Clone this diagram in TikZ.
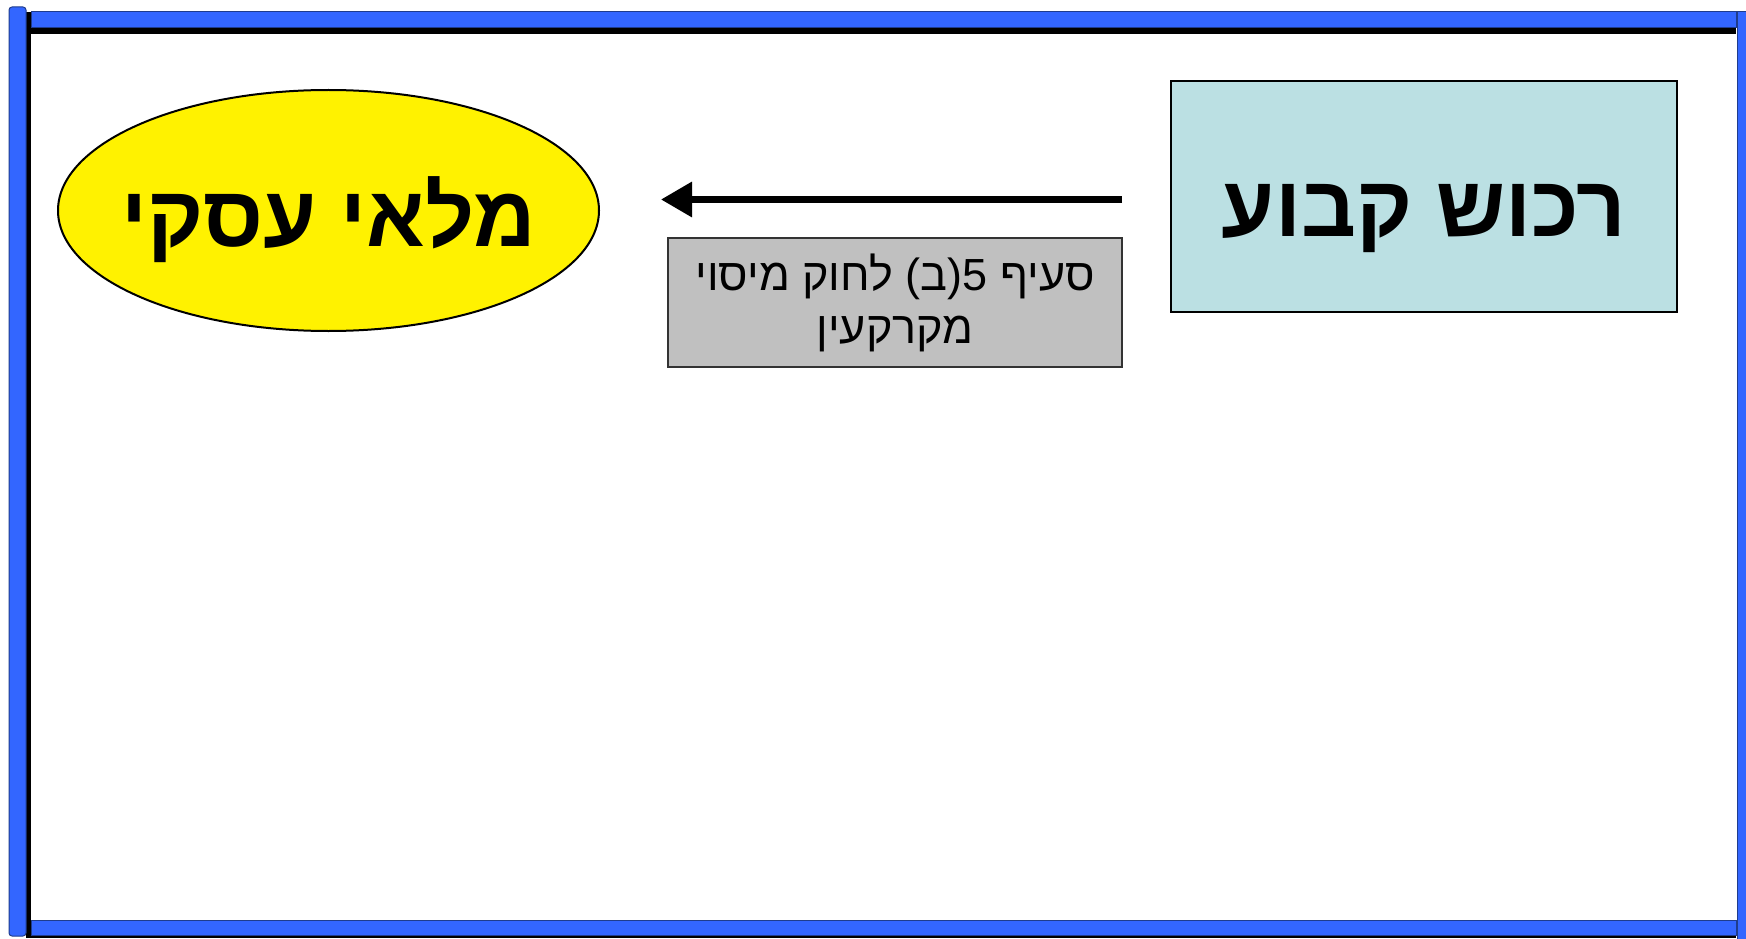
\documentclass[tikz,border=0pt]{standalone}
\usepackage{fontspec}
\setmainfont{Liberation Sans}
\newfontfamily\hebfont[Script=Hebrew]{Liberation Sans}
\TeXXeTstate=1
\usetikzlibrary{shapes.geometric,arrows.meta}
\definecolor{frameblue}{HTML}{3366FF}
\definecolor{frameedge}{HTML}{1F3C8C}
\definecolor{boxblue}{HTML}{BBE0E3}
\definecolor{boxgray}{HTML}{C0C0C0}
\tikzset{
  bar/.style={fill=frameblue, draw=frameedge, line width=1pt},
  shadowbar/.style={fill=black, draw=none},
  bigtext/.style={font=\hebfont\bfseries\fontsize{86}{100}\selectfont},
  assetbox/.style={rectangle, draw=black, line width=2pt, fill=boxblue,
    minimum width=506pt, minimum height=231pt, inner sep=0pt, bigtext},
  stockell/.style={ellipse, draw=black, line width=2pt, fill=yellow,
    minimum width=541pt, minimum height=241pt, inner sep=0pt, bigtext},
  lawbox/.style={rectangle, draw=black!80, line width=2pt, fill=boxgray,
    minimum width=454pt, minimum height=129pt, inner sep=0pt, align=center,
    font=\hebfont\fontsize{45}{53}\selectfont},
  flow/.style={line width=6.5pt, -{Triangle[length=31pt,width=34pt]}}
}
\newcommand{\dropby}[2]{\makebox[0pt]{\raisebox{-#1}[0pt][0pt]{#2}}}
\begin{document}
\begin{tikzpicture}[x=1pt,y=-1pt]
\useasboundingbox (0,0) rectangle (1746,939);
\fill[white] (0,0) rectangle (1746,939);
% frame shadows
\fill[shadowbar] (26,12) rectangle (31,938);
\fill[shadowbar] (26,28) rectangle (1736,34);
\fill[shadowbar] (26,935) rectangle (1736,938);
% frame bars
\draw[bar] (31,12) rectangle (1736,28);
\draw[bar] (31,920) rectangle (1736,935);
\draw[bar] (1737,12) rectangle (1752,945);
\draw[bar, rounded corners=3pt] (9,7) rectangle (26,936);
% nodes
\node[assetbox] (asset) at (1424,196.5) {\dropby{40pt}{\beginR רכוש קבוע\endR}};
\node[stockell] (stock) at (328.5,210.5) {\dropby{36pt}{\beginR מלאי עסקי\endR}};
\node[lawbox] (law) at (895,302.5) {\beginR סעיף 5(ב) לחוק מיסוי\endR\\\beginR מקרקעין\endR};
\coordinate (arrowstart) at (1122,199.5);
\coordinate (arrowend) at (661,199.5);
\draw[flow] (arrowstart) -- (arrowend);
\end{tikzpicture}
\end{document}
